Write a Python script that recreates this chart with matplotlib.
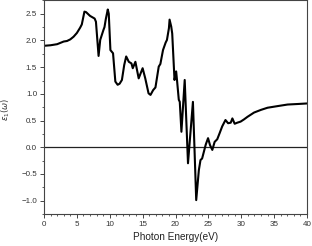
import matplotlib
matplotlib.use("Agg")
import matplotlib.pyplot as plt
from matplotlib.ticker import MultipleLocator

plt.rcParams['font.family'] = ['Liberation Sans', 'DejaVu Sans']
plt.rcParams['mathtext.fontset'] = 'dejavusans'

energy = [0.0, 1.0, 2.0, 2.4, 3.0, 3.5, 4.0, 4.5, 5.0, 5.5, 5.75, 6.0, 6.15, 6.4,
          7.0, 7.7, 7.9, 8.3, 8.55, 9.05, 9.2, 9.4, 9.7, 9.85, 10.1, 10.5, 10.85,
          11.2, 11.5, 11.85, 12.2, 12.5, 12.9, 13.3, 13.5, 13.9, 14.4, 15.0, 15.4,
          15.9, 16.2, 16.6, 16.95, 17.45, 17.7, 18.1, 18.5, 18.7, 19.0, 19.1, 19.35,
          19.5, 19.85, 20.1, 20.25, 20.5, 20.65, 20.9, 21.4, 21.9, 22.65, 23.15,
          23.55, 23.8, 24.05, 24.6, 24.95, 25.25, 25.6, 25.95, 26.35, 26.7, 27.1,
          27.6, 28.0, 28.4, 28.65, 29.0, 29.4, 29.9, 30.4, 30.95, 31.95, 33.0, 34.0,
          35.5, 37.05, 38.6, 40.0]
eps1 = [1.90, 1.91, 1.93, 1.95, 1.98, 1.99, 2.02, 2.07, 2.14, 2.24, 2.30, 2.45, 2.54, 2.53,
        2.46, 2.41, 2.35, 1.71, 2.01, 2.20, 2.25, 2.40, 2.58, 2.50, 1.82, 1.76, 1.23,
        1.17, 1.19, 1.26, 1.54, 1.70, 1.60, 1.57, 1.48, 1.60, 1.29, 1.48, 1.29,
        1.01, 0.98, 1.07, 1.12, 1.51, 1.56, 1.82, 1.96, 2.01, 2.23, 2.39, 2.26,
        2.13, 1.26, 1.42, 1.23, 0.89, 0.85, 0.29, 1.26, -0.30, 0.85, -0.99,
        -0.43, -0.24, -0.21, 0.05, 0.17, 0.04, -0.05, 0.10, 0.15, 0.26, 0.39,
        0.51, 0.45, 0.46, 0.54, 0.44, 0.46, 0.48, 0.52, 0.57, 0.65, 0.70, 0.74,
        0.77, 0.80, 0.81, 0.82]

fig = plt.figure(figsize=(3.12, 2.46), dpi=100)
ax = fig.add_axes([44/312, 32/246, 263/312, 213.6/246])

ax.axhline(0, color='#222222', lw=0.9, zorder=1)
ax.plot(energy, eps1, color='black', lw=1.5, zorder=2)

ax.set_xlim(0, 40)
ax.set_ylim(-1.25, 2.75)
ax.xaxis.set_major_locator(MultipleLocator(5))
ax.xaxis.set_minor_locator(MultipleLocator(1))
ax.yaxis.set_major_locator(MultipleLocator(0.5))
ax.yaxis.set_minor_locator(MultipleLocator(0.25))

for s in ax.spines.values():
    s.set_color('#444444')
    s.set_linewidth(0.8)

ax.tick_params(which='major', direction='out', length=3, width=0.7, colors='#444444',
               labelsize=5.8, labelcolor='#333333', pad=2)
ax.tick_params(which='minor', direction='out', length=1.6, width=0.6, colors='#444444')

ax.set_xlabel('Photon Energy(eV)', fontsize=7.2, color='#222222', labelpad=3)
ax.set_ylabel(r'$\varepsilon_1(\omega)$', fontsize=6, color='#333333')
ax.yaxis.set_label_coords(-32/263, 0.49)

fig.savefig('out.png', dpi=100)
